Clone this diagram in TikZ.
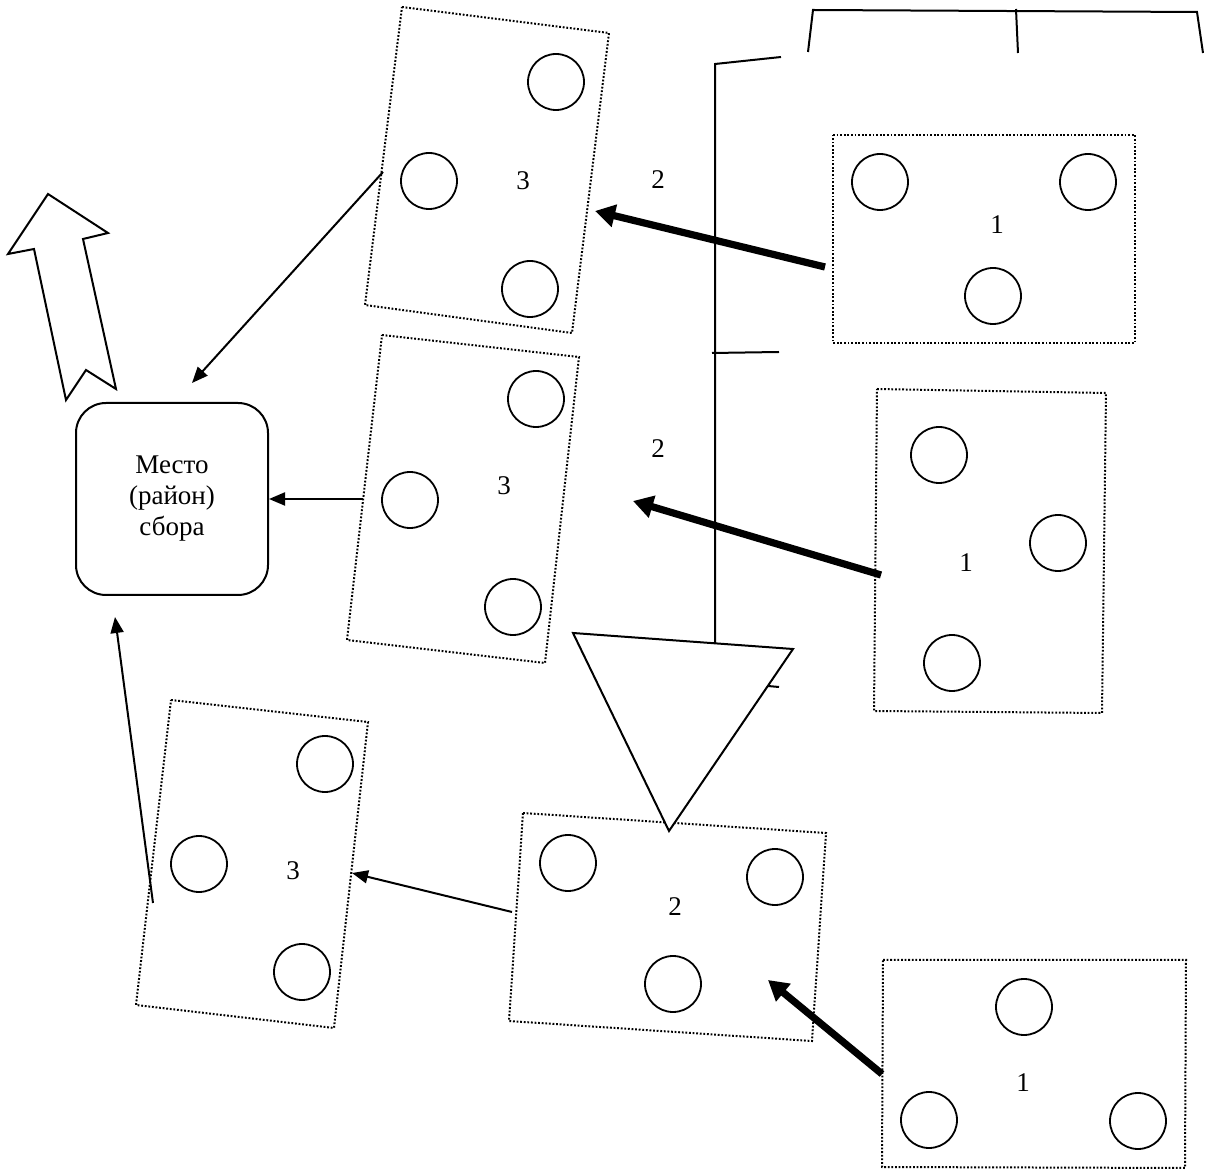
\documentclass[tikz,border=0pt]{standalone}
\usepackage{fontspec}
\setmainfont{Liberation Serif}
\usetikzlibrary{arrows.meta}
\begin{document}
\begin{tikzpicture}[x=0.5pt,y=-0.5pt,
  dotbox/.style={line width=1pt, dash pattern=on 0.9pt off 0.9pt},
  tree/.style={circle,draw,line width=0.9pt,minimum size=28pt,inner sep=0pt},
  num/.style={font=\fontsize{13.5}{15.5}\selectfont,inner sep=0pt},
  thinarrow/.style={line width=1pt,-{Triangle[length=8pt,width=6.5pt]}},
  thickarrow/.style={line width=3.6pt,-{Triangle[length=10pt,width=11pt]}},
  plainline/.style={line width=1pt},
]
\useasboundingbox (0,0) rectangle (1206,1170);

% dotted plots
\draw[dotbox] (402,7) -- (609,33) -- (572,333) -- (365,305) -- cycle;
\draw[dotbox] (382,335) -- (579,357) -- (545,663) -- (347,640) -- cycle;
\draw[dotbox] (171,700) -- (368,722) -- (334,1028) -- (136,1005) -- cycle;
\draw[dotbox] (523,813) -- (826,833) -- (812,1041) -- (509,1021) -- cycle;
\draw[dotbox] (833,135) -- (1135,135) -- (1135,343) -- (833,343) -- cycle;
\draw[dotbox] (877,389) -- (1106,393) -- (1102,713) -- (874,711) -- cycle;
\draw[dotbox] (883,960) -- (1186,960) -- (1185,1168) -- (882,1167) -- cycle;

% circles
\node[tree] (a1) at (556,82) {};
\node[tree] (a2) at (429,181) {};
\node[tree] (a3) at (530,289) {};
\node[tree] (b1) at (536,399) {};
\node[tree] (b2) at (410,500) {};
\node[tree] (b3) at (513,607) {};
\node[tree] (c1) at (325,764) {};
\node[tree] (c2) at (199,864) {};
\node[tree] (c3) at (302,972) {};
\node[tree] (d1) at (568,863) {};
\node[tree] (d2) at (775,877) {};
\node[tree] (d3) at (673,984) {};
\node[tree] (e1) at (880,182) {};
\node[tree] (e2) at (1088,182) {};
\node[tree] (e3) at (993,296) {};
\node[tree] (f1) at (939,455) {};
\node[tree] (f2) at (1058,543) {};
\node[tree] (f3) at (952,663) {};
\node[tree] (g1) at (1024,1007) {};
\node[tree] (g2) at (929,1120) {};
\node[tree] (g3) at (1138,1121) {};

% labels
\node[num] (l3a) at (523,181) {3};
\node[num] (l3b) at (504,486) {3};
\node[num] (l3c) at (293,871) {3};
\node[num] (l2d) at (675,907) {2};
\node[num] (l2a) at (658,180) {2};
\node[num] (l2b) at (658,449) {2};
\node[num] (l1a) at (997,225) {1};
\node[num] (l1b) at (966,563) {1};
\node[num] (l1c) at (1023,1083) {1};

% collection site
\node[draw,line width=1pt,rounded corners=15pt,minimum width=96pt,minimum height=96pt,
      align=center,inner sep=0pt,font=\fontsize{13.5}{15.5}\selectfont] (site) at (172,499)
      {Место\\(район)\\сбора};

% hollow arrow
\draw[plainline] (48,194) -- (108,233) -- (83,239) -- (116,389) -- (86,370) -- (66,400) -- (34,249) -- (8,254) -- cycle;

% road lines
\coordinate (vbot) at (715,643);
\coordinate (vtop) at (715,64);
\coordinate (vend) at (781,57);
\draw[plainline] (vbot) -- (vtop) -- (vend);
\coordinate (t1) at (712,353);
\coordinate (t2) at (779,352);
\draw[plainline] (t1) -- (t2);
\coordinate (s1) at (768,686);
\coordinate (s2) at (779,687);
\draw[plainline] (s1) -- (s2);

% bracket
\coordinate (br1) at (808,52);
\coordinate (br2) at (813,10);
\coordinate (br3) at (1197,12);
\coordinate (br4) at (1203,53);
\coordinate (bm1) at (1016,9);
\coordinate (bm2) at (1018,53);
\draw[plainline] (br1) -- (br2) -- (br3) -- (br4);
\draw[plainline] (bm1) -- (bm2);

% triangle
\draw[plainline,fill=white] (573,633) -- (793,649) -- (669,831) -- cycle;

% thick arrows
\coordinate (k1s) at (825,267); \coordinate (k1e) at (595,211);
\coordinate (k2s) at (881,575); \coordinate (k2e) at (633,501);
\coordinate (k3s) at (882,1074); \coordinate (k3e) at (768,980);
\draw[thickarrow] (k1s) -- (k1e);
\draw[thickarrow] (k2s) -- (k2e);
\draw[thickarrow] (k3s) -- (k3e);

% thin arrows
\coordinate (m1s) at (383,172); \coordinate (m1e) at (192,383);
\coordinate (m2s) at (363,499);
\coordinate (m3s) at (153,903); \coordinate (m3e) at (115,617);
\coordinate (m4s) at (512,912); \coordinate (m4e) at (352,873);
\draw[thinarrow] (m1s) -- (m1e);
\draw[thinarrow] (m2s) -- (site.east);
\draw[thinarrow] (m3s) -- (m3e);
\draw[thinarrow] (m4s) -- (m4e);
\end{tikzpicture}
\end{document}
